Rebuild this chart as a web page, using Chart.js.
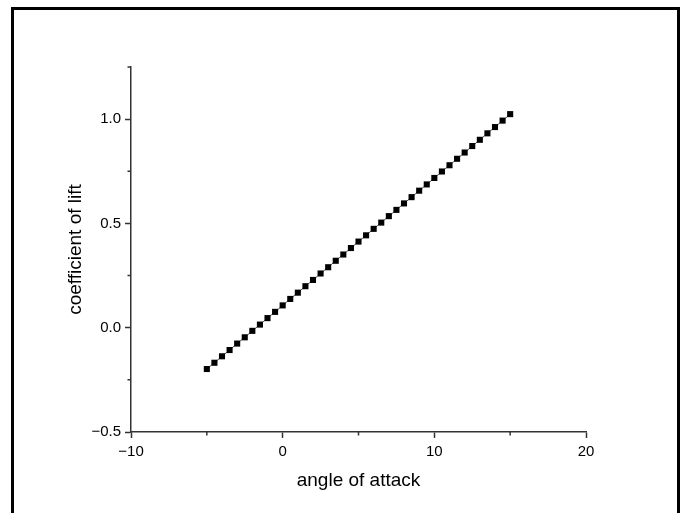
<!DOCTYPE html>
<html><head><meta charset="utf-8">
<script src="https://cdn.jsdelivr.net/npm/chart.js@4/dist/chart.umd.min.js"></script>
<style>html,body{margin:0;padding:0;background:#fff;}#wrap{width:683px;height:513px;}</style>
</head><body><div id="wrap"><canvas id="c" width="683" height="513"></canvas></div>
<script>
const angles = [-5,-4.5,-4,-3.5,-3,-2.5,-2,-1.5,-1,-0.5,0,0.5,1,1.5,2,2.5,3,3.5,4,4.5,5,5.5,6,6.5,7,7.5,8,8.5,9,9.5,10,10.5,11,11.5,12,12.5,13,13.5,14,14.5,15];
const liftCoeff = [-0.198,-0.168,-0.137,-0.107,-0.076,-0.046,-0.015,0.015,0.046,0.076,0.107,0.138,0.168,0.199,0.229,0.260,0.290,0.321,0.351,0.382,0.413,0.443,0.474,0.504,0.535,0.565,0.596,0.626,0.657,0.687,0.718,0.749,0.779,0.810,0.840,0.871,0.901,0.932,0.962,0.993,1.024];
const xTickLabels = {'-10':'\u221210','0':'0','10':'10','20':'20'};
const yTickLabels = {'-0.5':'\u22120.5','0':'0.0','0.5':'0.5','1':'1.0'};

const pts = angles.map((a,i)=>({x:a,y:liftCoeff[i]}));
const AX = '#333';
const FONT = 'Liberation Sans, Arial, sans-serif';
const frame = {
  id:'frame',
  afterDraw(chart){
    const ctx = chart.ctx;
    ctx.save();
    ctx.fillStyle = '#000';
    ctx.fillRect(11,7,669,3);
    ctx.fillRect(11,7,3,520);
    ctx.fillRect(677,7,3,520);
    const xs = chart.scales.x, ys = chart.scales.y;
    ctx.strokeStyle = AX; ctx.lineWidth = 1.5;
    ctx.beginPath();
    [-5,5,15].forEach(v=>{const px=xs.getPixelForValue(v);ctx.moveTo(px,ys.bottom);ctx.lineTo(px,ys.bottom+3.5);});
    [-0.25,0.25,0.75,1.25].forEach(v=>{const py=ys.getPixelForValue(v);ctx.moveTo(xs.left,py);ctx.lineTo(xs.left-3.5,py);});
    ctx.stroke();
    ctx.restore();
  }
};
new Chart(document.getElementById('c'),{
  type:'scatter',
  data:{datasets:[{data:pts,showLine:true,borderColor:'#555',borderWidth:1,pointStyle:'rect',pointRadius:4.3,pointBackgroundColor:'#000',pointBorderColor:'#000',pointBorderWidth:0}]},
  options:{
    responsive:false,animation:false,
    layout:{padding:{left:64,top:67,right:97,bottom:21}},
    plugins:{legend:{display:false},tooltip:{enabled:false}},
    scales:{
      x:{type:'linear',min:-10,max:20,
        afterBuildTicks(s){s.ticks=[-10,0,10,20].map(v=>({value:v}));},
        afterFit(s){s.height=60;},
        grid:{drawOnChartArea:false,drawTicks:true,tickLength:6,tickColor:AX,tickWidth:1.5},
        border:{display:true,color:AX,width:1.5},
        ticks:{color:'#000',font:{family:FONT,size:15},padding:5,maxRotation:0,callback:v=>xTickLabels[String(v)]??''},
        title:{display:true,text:'angle of attack',color:'#000',font:{family:FONT,size:19},padding:0}
      },
      y:{type:'linear',min:-0.5,max:1.25,
        afterBuildTicks(s){s.ticks=[-0.5,0,0.5,1].map(v=>({value:v}));},
        afterFit(s){s.width=67;},
        grid:{drawOnChartArea:false,drawTicks:true,tickLength:6,tickColor:AX,tickWidth:1.5},
        border:{display:true,color:AX,width:1.5},
        ticks:{color:'#000',font:{family:FONT,size:15},padding:4,callback:v=>yTickLabels[String(v)]??''},
        title:{display:true,text:'coefficient of lift',color:'#000',font:{family:FONT,size:19},padding:0}
      }
    }
  },
  plugins:[frame]
});
</script></body></html>
